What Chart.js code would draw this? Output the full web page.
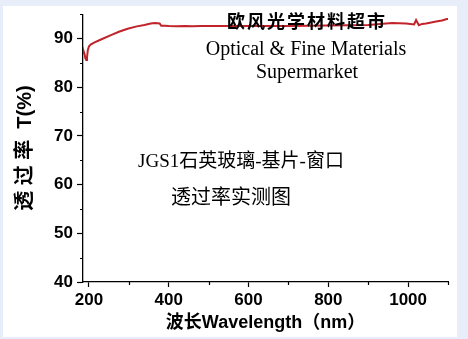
<!DOCTYPE html>
<html>
<head>
<meta charset="utf-8">
<script src="https://cdn.jsdelivr.net/npm/chart.js@4"></script>
<style>
  html, body { margin: 0; padding: 0; }
  body { width: 468px; height: 339px; background: #e8eef9; position: relative; overflow: hidden; }
  #panel { position: absolute; left: 3px; top: 6px; width: 454px; height: 331px; background: #ffffff; }
  #c { position: absolute; left: 0; top: 0; }
  .ann { position: absolute; white-space: nowrap; line-height: 1; color: #000; transform: translate(-50%, -50%); }
</style>
</head>
<body>
<div id="panel"></div>
<canvas id="c" width="468" height="339"></canvas>
<div class="ann" style="left:307px; top:20px; font-family:'Noto Sans CJK SC'; font-weight:bold; font-size:18px; letter-spacing:2px;">欧风光学材料超市</div>
<div class="ann" style="left:306px; top:48px; font-family:'Liberation Serif','Noto Sans CJK SC'; font-size:20px;">Optical &amp; Fine Materials</div>
<div class="ann" style="left:307px; top:71px; font-family:'Liberation Serif','Noto Sans CJK SC'; font-size:20px;">Supermarket</div>
<div class="ann" style="left:241px; top:160px; font-family:'Liberation Serif','Noto Sans CJK SC'; font-size:19px;">JGS1石英玻璃-基片-窗口</div>
<div class="ann" style="left:231px; top:197px; font-family:'Liberation Serif','Noto Sans CJK SC'; font-size:20px;">透过率实测图</div>
<script>
// ---- data ----
const wavelength = [185,187,189,191,193,195,197,200,205,214,230,255,275,297,320,339,355,365,377,381,390,400,420,440,460,480,500,550,600,650,700,750,800,850,900,930,960,995,1015,1020,1027,1035,1045,1058,1070,1085,1097,1100];
const transmittance = [87.0,87.3,86.8,85.9,85.6,86.0,87.6,88.4,88.8,89.2,89.8,90.7,91.4,92.0,92.5,92.8,93.1,93.2,93.1,92.65,92.65,92.6,92.55,92.6,92.5,92.6,92.6,92.6,92.6,92.6,92.6,92.65,92.7,92.75,92.8,93.0,93.2,93.1,92.9,93.8,92.75,93.0,93.1,93.3,93.5,93.7,94.0,94.0];
const yMajorTicks = [40,50,60,70,80,90];
const yMinorTicks = [45,55,65,75,85,95];
const xMajorTicks = [200,400,600,800,1000];
const xMinorTicks = [300,500,700,900,1100];
const yTitle = '透 过 率  T(%)';
const xTitle = '波长Wavelength（nm）';

const points = wavelength.map((w, i) => ({ x: w, y: transmittance[i] }));

const minorTickPlugin = {
  id: 'minorTicks',
  afterDraw(chart) {
    const ctx = chart.ctx;
    const xs = chart.scales.x, ys = chart.scales.y;
    ctx.save();
    ctx.strokeStyle = '#000';
    ctx.lineWidth = 1.2;
    ctx.beginPath();
    yMinorTicks.forEach(v => {
      const py = Math.round(ys.getPixelForValue(v)) + 0.5;
      ctx.moveTo(xs.left - 3, py);
      ctx.lineTo(xs.left, py);
    });
    xMinorTicks.forEach(v => {
      const px = Math.round(xs.getPixelForValue(v)) + 0.5;
      ctx.moveTo(px, ys.bottom);
      ctx.lineTo(px, ys.bottom + 3);
    });
    ctx.stroke();
    ctx.restore();
  }
};

new Chart(document.getElementById('c'), {
  type: 'line',
  data: {
    datasets: [{
      data: points,
      borderColor: '#c0232a',
      borderWidth: 2,
      pointRadius: 0,
      tension: 0,
      fill: false
    }]
  },
  options: {
    responsive: false,
    animation: false,
    events: [],
    layout: { padding: { left: 0, right: 20, top: 13, bottom: 0 } },
    plugins: { legend: { display: false }, tooltip: { enabled: false } },
    scales: {
      x: {
        type: 'linear',
        min: 185,
        max: 1100,
        afterBuildTicks: s => { s.ticks = xMajorTicks.map(v => ({ value: v })); },
        afterFit: s => { s.height = 57; },
        border: { display: true, color: '#000', width: 1.3 },
        grid: { drawOnChartArea: false, drawTicks: true, tickLength: 5, tickColor: '#000', tickWidth: 1.2 },
        ticks: { color: '#000', padding: 3, maxRotation: 0, autoSkip: false,
                 callback: v => String(v),
                 font: { family: "'Liberation Sans', Arial", weight: 'bold', size: 17 } },
        title: { display: true, text: xTitle, color: '#000', padding: { top: 2, bottom: 5 },
                 font: { family: "'Liberation Sans', 'Noto Sans CJK SC'", weight: 'bold', size: 18 } }
      },
      y: {
        type: 'linear',
        min: 40,
        max: 95,
        afterBuildTicks: s => { s.ticks = yMajorTicks.map(v => ({ value: v })); },
        afterFit: s => { s.width = 83; },
        border: { display: true, color: '#000', width: 1.3 },
        grid: { drawOnChartArea: false, drawTicks: true, tickLength: 6, tickColor: '#000', tickWidth: 1.2 },
        ticks: { color: '#000', padding: 4, autoSkip: false,
                 callback: v => String(v),
                 font: { family: "'Liberation Sans', Arial", weight: 'bold', size: 17 } },
        title: { display: true, text: yTitle, color: '#000', padding: { top: 13, bottom: 0 },
                 font: { family: "'Liberation Sans', 'Noto Sans CJK SC'", weight: 'bold', size: 20 } }
      }
    }
  },
  plugins: [minorTickPlugin]
});
</script>
</body>
</html>
